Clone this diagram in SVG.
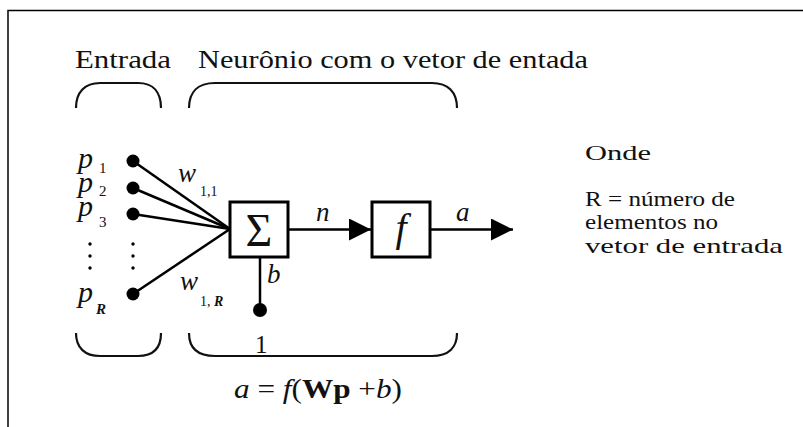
<svg xmlns="http://www.w3.org/2000/svg" width="803" height="427" viewBox="0 0 803 427">
<defs>
<style>
.t{font-family:"Liberation Serif","Times New Roman",serif;fill:#111}
.m{font-family:"Liberation Serif","Times New Roman",serif;font-style:italic;fill:#111}
.r{font-family:"Liberation Serif","Times New Roman",serif;fill:#111}
.ln{stroke:#000;stroke-width:2.5;fill:none}
.br{stroke:#111;stroke-width:2.2;fill:none}
.box{stroke:#000;stroke-width:3;fill:#fff}
</style>
<marker id="ah" markerWidth="22" markerHeight="22" viewBox="0 0 22 22" refX="22" refY="11" orient="auto" markerUnits="userSpaceOnUse"><path d="M0,0 L22,11 L0,22 Z" fill="#000"/></marker>
</defs>
<rect width="803" height="427" fill="#fff"/>
<path d="M8,427 L8,10.5 L803,10.5" stroke="#000" stroke-width="1.5" fill="none"/>
<g id="labels">
<text class="t" x="75" y="68" font-size="25" textLength="96" lengthAdjust="spacingAndGlyphs">Entrada</text>
<text class="t" x="198" y="68" font-size="25" textLength="390" lengthAdjust="spacingAndGlyphs">Neurônio com o vetor de entada</text>
</g>
<g id="braces">
<path class="br" d="M76,108 C76,92 85,83 100,83 L138,83 C153,83 161,92 161,108"/>
<path class="br" d="M189,108 C189,92 198,83 215,83 L432,83 C448,83 457,92 457,108"/>
<path class="br" d="M76,333 C76,348 85,356 100,356 L138,356 C153,356 161,348 161,333"/>
<path class="br" d="M189,333 C189,348 198,356 215,356 L432,356 C448,356 457,348 457,333"/>
</g>
<g id="connectors">
<line class="ln" x1="133" y1="161" x2="230" y2="229"/>
<line class="ln" x1="133" y1="188" x2="230" y2="229"/>
<line class="ln" x1="133" y1="214" x2="230" y2="229"/>
<line class="ln" x1="133" y1="294" x2="230" y2="229"/>
<line class="ln" x1="288" y1="229.5" x2="371" y2="229.5" marker-end="url(#ah)"/>
<line class="ln" x1="430" y1="229.5" x2="513" y2="229.5" marker-end="url(#ah)"/>
<line class="ln" x1="260" y1="257" x2="260" y2="309"/>
</g>
<g id="inputs">
<circle cx="133" cy="161" r="6.5"/>
<circle cx="133" cy="188" r="6.5"/>
<circle cx="133" cy="214" r="6.5"/>
<circle cx="133" cy="294" r="6.5"/>
<circle cx="133" cy="244" r="1.7"/><circle cx="133" cy="256" r="1.7"/><circle cx="133" cy="268" r="1.7"/>
<circle cx="90" cy="244" r="1.7"/><circle cx="90" cy="256" r="1.7"/><circle cx="90" cy="268" r="1.7"/>
<text class="m" x="78" y="168" font-size="30">p</text><text class="r" x="99" y="173" font-size="15">1</text>
<text class="m" x="78" y="192" font-size="30">p</text><text class="r" x="99" y="196" font-size="15">2</text>
<text class="m" x="78" y="216" font-size="30">p</text><text class="r" x="99" y="227" font-size="15">3</text>
<text class="m" x="78" y="302" font-size="30">p</text><text class="m" x="96" y="314" font-size="15" font-weight="bold">R</text>
<text class="m" x="178" y="182" font-size="27">w</text><text class="r" x="200" y="196" font-size="14">1,1</text>
<text class="m" x="180" y="290" font-size="27">w</text><text class="r" x="200" y="306" font-size="14">1, <tspan font-style="italic" font-weight="bold">R</tspan></text>
</g>
<g id="sum">
<rect class="box" x="230" y="202" width="58" height="55"/>
<text class="r" x="259" y="246" font-size="46" text-anchor="middle">Σ</text>
</g>
<g id="transfer">
<rect class="box" x="372" y="202" width="58" height="55"/>
<text class="m" x="401" y="241" font-size="40" text-anchor="middle">f</text>
</g>
<g id="bias">
<circle cx="260" cy="310" r="7"/>
<text class="m" x="267" y="283" font-size="27">b</text>
<text class="r" x="255" y="353" font-size="25">1</text>
</g>
<g id="signals">
<text class="m" x="316" y="221" font-size="27">n</text>
<text class="m" x="456" y="221" font-size="27">a</text>
</g>
<text class="r" x="234" y="398" font-size="27" textLength="168" lengthAdjust="spacingAndGlyphs"><tspan font-style="italic">a</tspan> = <tspan font-style="italic">f</tspan>(<tspan font-weight="bold">Wp</tspan> +<tspan font-style="italic">b</tspan>)</text>
<g id="legend">
<text class="t" x="585" y="160" font-size="22" textLength="66" lengthAdjust="spacingAndGlyphs">Onde</text>
<text class="t" x="585" y="206" font-size="22" textLength="150" lengthAdjust="spacingAndGlyphs">R = número de</text>
<text class="t" x="585" y="229" font-size="22" textLength="133" lengthAdjust="spacingAndGlyphs">elementos no</text>
<text class="t" x="585" y="253" font-size="22" textLength="198" lengthAdjust="spacingAndGlyphs">vetor de entrada</text>
</g>
</svg>
